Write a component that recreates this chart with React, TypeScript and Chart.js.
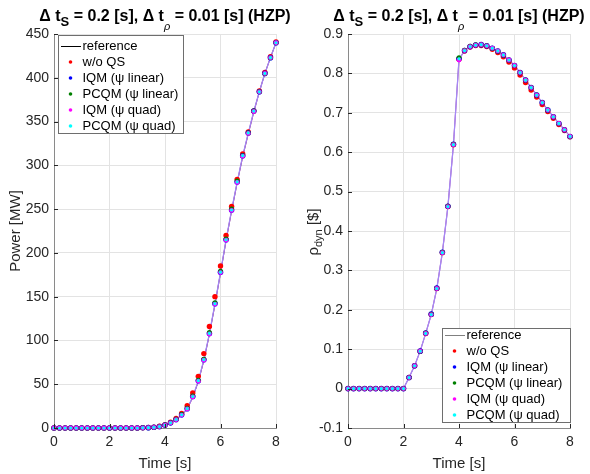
import React, { useEffect, useRef } from 'react';
import { Chart, registerables } from 'chart.js';

Chart.register(...registerables);

// ---------------- data ----------------
const time = [0, 0.2, 0.4, 0.6, 0.8, 1, 1.2, 1.4, 1.6, 1.8, 2, 2.2, 2.4, 2.6, 2.8, 3, 3.2, 3.4, 3.6, 3.8, 4,
  4.2, 4.4, 4.6, 4.8, 5, 5.2, 5.4, 5.6, 5.8, 6, 6.2, 6.4, 6.6, 6.8, 7, 7.2, 7.4, 7.6, 7.8, 8];

const powerReference = [0, 0, 0, 0, 0, 0, 0, 0, 0, 0, 0, 0, 0, 0, 0, 0,
  0.2, 0.4, 0.8, 1.6, 3.2, 5.8, 9.5, 14.8, 22, 35, 53, 77, 107, 141, 177, 214, 248, 280, 310, 336, 361, 384, 405, 423, 440];
const powerWoQS = [0, 0, 0, 0, 0, 0, 0, 0, 0, 0, 0, 0, 0, 0, 0, 0,
  0.3, 0.5, 1.0, 2.0, 3.8, 6.6, 10.8, 16.5, 25.5, 40, 59, 85, 116, 150, 185, 220, 253, 284, 313, 338, 362, 385, 406, 424, 441];
const powerIQMLin = [0, 0, 0, 0, 0, 0, 0, 0, 0, 0, 0, 0, 0, 0, 0, 0,
  0.2, 0.4, 0.8, 1.6, 3.3, 5.9, 9.6, 15, 22, 36, 54, 78, 108, 142, 178, 215, 249, 281, 311, 337, 362, 384, 405, 423, 440];
const powerPCQMLin = [0, 0, 0, 0, 0, 0, 0, 0, 0, 0, 0, 0, 0, 0, 0, 0,
  0.2, 0.4, 0.8, 1.7, 3.4, 6.1, 9.9, 15.4, 22.5, 36.5, 54.5, 78.5, 109, 143, 179, 216, 250, 282, 311, 337, 362, 384, 405, 423, 440];
const powerIQMQuad = [0, 0, 0, 0, 0, 0, 0, 0, 0, 0, 0, 0, 0, 0, 0, 0,
  0.2, 0.4, 0.8, 1.6, 3.2, 5.8, 9.5, 14.8, 21.8, 35.5, 53.5, 77.5, 107.5, 141.5, 177.5, 214.5, 248.5, 280.5, 310.5, 336.5, 361.5, 384, 405, 423, 440];
const powerPCQMQuad = [0, 0, 0, 0, 0, 0, 0, 0, 0, 0, 0, 0, 0, 0, 0, 0,
  0.2, 0.4, 0.8, 1.6, 3.3, 5.9, 9.7, 15.1, 22.2, 36, 54, 78, 108, 142, 178, 215, 249, 281, 311, 337, 362, 384, 405, 423, 440];

const rhoReference = [0, 0, 0, 0, 0, 0, 0, 0, 0, 0, 0,
  0.028, 0.058, 0.095, 0.140, 0.188, 0.254, 0.345, 0.462, 0.619, 0.836, 0.858, 0.868, 0.872, 0.873, 0.870,
  0.864, 0.857, 0.847, 0.834, 0.820, 0.802, 0.783, 0.764, 0.745, 0.726, 0.707, 0.690, 0.673, 0.657, 0.640];
const rhoWoQS = [0, 0, 0, 0, 0, 0, 0, 0, 0, 0, 0,
  0.028, 0.058, 0.095, 0.140, 0.188, 0.254, 0.345, 0.462, 0.619, 0.836, 0.857, 0.867, 0.871, 0.871, 0.868,
  0.861, 0.853, 0.842, 0.829, 0.814, 0.796, 0.777, 0.758, 0.740, 0.721, 0.703, 0.686, 0.670, 0.655, 0.639];
const rhoIQMLin = [0, 0, 0, 0, 0, 0, 0, 0, 0, 0, 0,
  0.028, 0.058, 0.095, 0.141, 0.189, 0.255, 0.346, 0.463, 0.620, 0.837, 0.858, 0.868, 0.872, 0.873, 0.870,
  0.864, 0.857, 0.847, 0.834, 0.820, 0.802, 0.783, 0.764, 0.745, 0.726, 0.707, 0.690, 0.673, 0.657, 0.640];
const rhoPCQMLin = [0, 0, 0, 0, 0, 0, 0, 0, 0, 0, 0,
  0.028, 0.058, 0.095, 0.141, 0.189, 0.255, 0.346, 0.463, 0.620, 0.840, 0.859, 0.869, 0.873, 0.873, 0.870,
  0.864, 0.857, 0.847, 0.834, 0.820, 0.802, 0.783, 0.764, 0.745, 0.726, 0.707, 0.690, 0.673, 0.657, 0.640];
const rhoIQMQuad = [0, 0, 0, 0, 0, 0, 0, 0, 0, 0, 0,
  0.028, 0.058, 0.095, 0.140, 0.188, 0.254, 0.345, 0.462, 0.619, 0.834, 0.858, 0.868, 0.872, 0.873, 0.870,
  0.864, 0.857, 0.847, 0.834, 0.820, 0.802, 0.783, 0.764, 0.745, 0.726, 0.707, 0.690, 0.673, 0.657, 0.640];
const rhoPCQMQuad = [0, 0, 0, 0, 0, 0, 0, 0, 0, 0, 0,
  0.028, 0.058, 0.095, 0.140, 0.188, 0.254, 0.345, 0.462, 0.619, 0.837, 0.858, 0.868, 0.872, 0.873, 0.870,
  0.864, 0.857, 0.847, 0.834, 0.820, 0.802, 0.783, 0.764, 0.745, 0.726, 0.707, 0.690, 0.673, 0.657, 0.640];

const seriesLabels = ['reference', 'w/o QS', 'IQM (\u03C8 linear)', 'PCQM (\u03C8 linear)', 'IQM (\u03C8 quad)', 'PCQM (\u03C8 quad)'];
const timeTicks = [0, 2, 4, 6, 8];
const powerTicks = [0, 50, 100, 150, 200, 250, 300, 350, 400, 450];
const rhoTicks = [-0.1, 0, 0.1, 0.2, 0.3, 0.4, 0.5, 0.6, 0.7, 0.8, 0.9];

// ---------------- styling ----------------
const FONT = "'Liberation Sans', Arial, Helvetica, sans-serif";
const MARKER_COLORS = ['#ff0000', '#0000ff', '#008000', '#ff00ff', '#00ffff'];
const MARKER_RADII = [2.7, 2.8, 2.5, 2.4, 1.6];

type Seg = { t: string; size: number; bold?: boolean; italic?: boolean; dy?: number };

function fontOf(s: Seg) {
  return `${s.italic ? 'italic ' : ''}${s.bold ? 'bold ' : ''}${s.size}px ${FONT}`;
}

function drawSegs(ctx: CanvasRenderingContext2D, segs: Seg[], cx: number, baseY: number, color: string) {
  const widths = segs.map((s) => { ctx.font = fontOf(s); return ctx.measureText(s.t).width; });
  const total = widths.reduce((a, b) => a + b, 0);
  let x = cx - total / 2;
  ctx.fillStyle = color;
  ctx.textBaseline = 'alphabetic';
  ctx.textAlign = 'left';
  segs.forEach((s, i) => {
    ctx.font = fontOf(s);
    ctx.fillText(s.t, x, baseY + (s.dy || 0));
    x += widths[i];
  });
}

const titleSegs: Seg[] = [
  { t: '\u0394 t', size: 16, bold: true },
  { t: 'S', size: 13, bold: true, dy: 5 },
  { t: ' = 0.2 [s], \u0394 t', size: 16, bold: true },
  { t: '\u03C1', size: 11, italic: true, dy: 9 },
  { t: ' = 0.01 [s] (HZP)', size: 16, bold: true },
];

type Cfg = {
  key: string;
  ylabel: Seg[];
  ylabelX: number;
  ylabelY: number;
  legend: { x: number; y: number; w: number; h: number; first: number; row: number; refColor: string };
};

function makeDecor(cfg: Cfg) {
  return {
    id: 'decor' + cfg.key,
    afterDraw(chart: any) {
      const ctx: CanvasRenderingContext2D = chart.ctx;
      const { left, right, top, bottom } = chart.chartArea;
      const xs = chart.scales.x;
      const ys = chart.scales.y;
      ctx.save();
      // inward tick marks
      ctx.strokeStyle = '#262626';
      ctx.lineWidth = 1;
      xs.ticks.forEach((t: any) => {
        const px = Math.round(xs.getPixelForValue(t.value)) + 0.5;
        ctx.beginPath(); ctx.moveTo(px, bottom); ctx.lineTo(px, bottom - 4); ctx.stroke();
      });
      ys.ticks.forEach((t: any) => {
        const py = Math.round(ys.getPixelForValue(t.value)) + 0.5;
        ctx.beginPath(); ctx.moveTo(left, py); ctx.lineTo(left + 4, py); ctx.stroke();
      });
      // legend
      const L = cfg.legend;
      ctx.fillStyle = '#ffffff';
      ctx.fillRect(L.x, L.y, L.w, L.h);
      ctx.strokeStyle = '#6e6e6e';
      ctx.strokeRect(L.x + 0.5, L.y + 0.5, L.w, L.h);
      ctx.font = `13px ${FONT}`;
      ctx.textBaseline = 'middle';
      ctx.textAlign = 'left';
      seriesLabels.forEach((lab, i) => {
        const cy = L.y + L.first + i * L.row;
        if (i === 0) {
          ctx.strokeStyle = L.refColor;
          ctx.lineWidth = 1;
          ctx.beginPath(); ctx.moveTo(L.x + 3, Math.round(cy) + 0.5); ctx.lineTo(L.x + 23, Math.round(cy) + 0.5); ctx.stroke();
        } else {
          ctx.fillStyle = MARKER_COLORS[i - 1];
          ctx.beginPath(); ctx.arc(L.x + 12.5, cy, 1.8, 0, Math.PI * 2); ctx.fill();
        }
        ctx.fillStyle = '#000000';
        ctx.fillText(lab, L.x + 24.5, cy + 0.5);
      });
      // title
      drawSegs(ctx, titleSegs, (left + right) / 2, 21, '#000000');
      // x label
      drawSegs(ctx, [{ t: 'Time [s]', size: 15 }], (left + right) / 2, 468, '#262626');
      // y label
      ctx.save();
      ctx.translate(cfg.ylabelX, cfg.ylabelY);
      ctx.rotate(-Math.PI / 2);
      drawSegs(ctx, cfg.ylabel, 0, 0, '#262626');
      ctx.restore();
      ctx.restore();
    },
  };
}

function buildConfig(
  series: number[][],
  ticks: number[],
  min: number,
  max: number,
  fmt: (v: number) => string,
  axisWidth: number,
  padRight: number,
  refLine: string,
  cfg: Cfg,
) {
  const pts = (arr: number[]) => arr.map((y, i) => ({ x: time[i], y }));
  const datasets: any[] = [
    { label: 'refline', data: pts(series[0]), showLine: true, borderColor: refLine, borderWidth: 0.8, pointRadius: 0, order: 10, clip: 8 },
    { label: 'quadline', data: pts(series[4]), showLine: true, borderColor: 'rgba(235,70,240,0.95)', borderWidth: 1.2, pointRadius: 0, order: 9, clip: 8 },
    { label: 'pcqmline', data: pts(series[5]), showLine: true, borderColor: 'rgba(110,190,255,0.55)', borderWidth: 1.2, pointRadius: 0, order: 8, clip: 8 },
  ];
  for (let k = 1; k <= 5; k++) {
    datasets.push({
      label: seriesLabels[k],
      data: pts(series[k]),
      showLine: false,
      pointRadius: MARKER_RADII[k - 1],
      pointBackgroundColor: MARKER_COLORS[k - 1],
      pointBorderWidth: 0,
      pointBorderColor: MARKER_COLORS[k - 1],
      order: 6 - k,
      clip: 8,
    });
  }
  return {
    type: 'scatter',
    data: { datasets },
    options: {
      animation: false,
      responsive: false,
      devicePixelRatio: 1,
      events: [],
      layout: { padding: { left: 0, right: padRight, top: 34, bottom: 0 } },
      plugins: { legend: { display: false }, tooltip: { enabled: false }, title: { display: false } },
      scales: {
        x: {
          type: 'linear',
          min: 0,
          max: 8,
          afterBuildTicks: (s: any) => { s.ticks = timeTicks.map((v) => ({ value: v })); },
          afterFit: (s: any) => { s.height = 46; },
          grid: { color: '#e3e3e3', drawTicks: false, lineWidth: 1 },
          border: { color: '#8a8a8a', width: 1 },
          ticks: { color: '#262626', font: { family: FONT, size: 14 }, padding: 6, maxRotation: 0, callback: (v: any) => String(v) },
        },
        y: {
          type: 'linear',
          min,
          max,
          afterBuildTicks: (s: any) => { s.ticks = ticks.map((v) => ({ value: v })); },
          afterFit: (s: any) => { s.width = axisWidth; },
          grid: { color: '#e3e3e3', drawTicks: false, lineWidth: 1 },
          border: { color: '#8a8a8a', width: 1 },
          ticks: { color: '#262626', font: { family: FONT, size: 14 }, padding: 5, callback: (v: any) => fmt(Number(v)) },
        },
      },
    },
    plugins: [makeDecor(cfg)],
  } as any;
}

function Panel({ make }: { make: () => any }) {
  const ref = useRef<HTMLCanvasElement | null>(null);
  useEffect(() => {
    if (!ref.current) return;
    const chart = new Chart(ref.current, make());
    return () => chart.destroy();
  }, []);
  return <canvas ref={ref} width={295} height={474} style={{ display: 'block', width: 295, height: 474 }} />;
}

const powerSeries = [powerReference, powerWoQS, powerIQMLin, powerPCQMLin, powerIQMQuad, powerPCQMQuad];
const rhoSeries = [rhoReference, rhoWoQS, rhoIQMLin, rhoPCQMLin, rhoIQMQuad, rhoPCQMQuad];

export default function App() {
  const leftMake = () => buildConfig(powerSeries, powerTicks, 0, 450, (v) => String(Math.round(v)), 54, 19, '#000000', {
    key: 'L',
    ylabel: [{ t: 'Power [MW]', size: 15 }],
    ylabelX: 20,
    ylabelY: 231,
    legend: { x: 58, y: 35, w: 125, h: 98, first: 11, row: 16, refColor: '#000000' },
  });
  const rightMake = () => buildConfig(rhoSeries, rhoTicks, -0.1, 0.9, (v) => String(Math.round(v * 10) / 10), 53, 20, '#666666', {
    key: 'R',
    ylabel: [
      { t: '\u03C1', size: 15 },
      { t: 'dyn', size: 11, dy: 4 },
      { t: ' [$]', size: 15 },
    ],
    ylabelX: 23,
    ylabelY: 232,
    legend: { x: 147, y: 328, w: 128, h: 94, first: 7, row: 16, refColor: '#808080' },
  });
  return (
    <div style={{ position: 'fixed', left: 0, top: 0, width: 590, height: 474, display: 'flex', background: '#ffffff' }}>
      <Panel make={leftMake} />
      <Panel make={rightMake} />
    </div>
  );
}
